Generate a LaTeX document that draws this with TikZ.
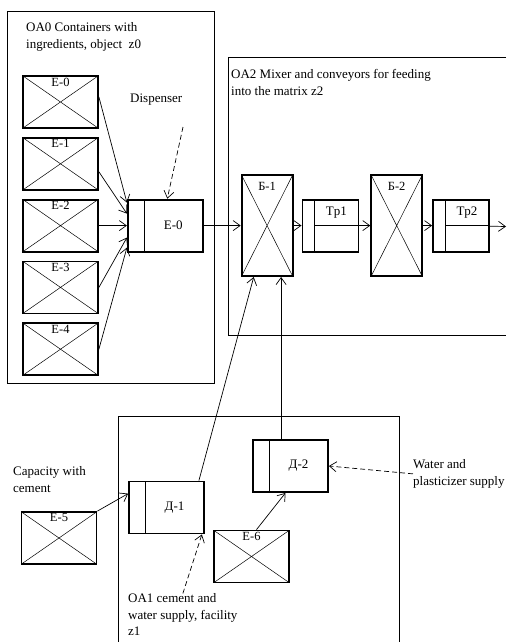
\documentclass[tikz,border=0pt]{standalone}
\usepackage{fontspec}
\setmainfont{Liberation Serif}
\usetikzlibrary{positioning,arrows.meta}

\begin{document}
\begin{tikzpicture}[
    x=1pt, y=-1pt,
    every node/.style={font=\fontsize{13}{16.5}\selectfont},
    frame/.style={draw, line width=0.8pt},
    tank/.style={rectangle, draw, line width=1.8pt, minimum width=75pt, minimum height=52pt, inner sep=0pt,
        path picture={\draw[line width=0.5pt] (path picture bounding box.north west) -- (path picture bounding box.south east)
            (path picture bounding box.south west) -- (path picture bounding box.north east);}},
    mixer/.style={tank, minimum width=51pt, minimum height=101pt},
    feeder/.style={rectangle, draw, line width=1.8pt, minimum width=75pt, minimum height=52pt, inner sep=0pt,
        path picture={\draw[line width=0.6pt] ([xshift=16pt]path picture bounding box.north west) -- ([xshift=16pt]path picture bounding box.south west);}},
    belt/.style={rectangle, draw, line width=1.8pt, minimum width=56pt, minimum height=52pt, inner sep=0pt,
        path picture={\draw[line width=0.6pt] ([xshift=12pt]path picture bounding box.north west) -- ([xshift=12pt]path picture bounding box.south west)
            ([xshift=12pt]path picture bounding box.west) -- (path picture bounding box.east);}},
    tag/.style={anchor=north, inner sep=2.5pt, font=\fontsize{12.5}{14}\selectfont},
    flow/.style={-{Straight Barb[length=7pt,width=10pt]}, line width=0.7pt},
    supply/.style={flow, dashed, dash pattern=on 5pt off 3pt},
    note/.style={anchor=north west, align=left, inner sep=0pt},
    node distance=8pt
]
\useasboundingbox (0,0) rectangle (506,642);

% Frames
\draw[frame] (7,11) rectangle (214,383);
\draw[frame] (506,57) -| (228,335) -- (506,335);
\draw[frame] (118,642) |- (399,416) -- (399,642);

\node[note] (oa0) at (26,22.5) {OA0 Containers with\\ingredients, object~~z0};
\node[note] (oa2) at (231,69.5) {OA2 Mixer and conveyors for feeding\\into the matrix z2};
\node[note] (dispnote) at (130,94) {Dispenser};
\node[note] (cap) at (13,466.5) {Capacity with\\cement};
\node[note] (water) at (413,459.5) {Water and\\plasticizer supply};
\node[note] (oa1) at (128,593.5) {OA1 cement and\\water supply, facility\\z1};

% Containers
\node[tank, label={[tag]north:E-0}] (e0) at (60.5,102) {};
\node[tank, label={[tag]north:E-1}, below=of e0] (e1) {};
\node[tank, label={[tag]north:E-2}, below=of e1] (e2) {};
\node[tank, label={[tag]north:E-3}, below=of e2] (e3) {};
\node[tank, label={[tag]north:E-4}, below=of e3] (e4) {};

\node[feeder, label={[xshift=8pt]center:E-0}, right=28pt of e2] (disp) {};
\coordinate (dispin) at (183,127);

% Mixer line
\node[mixer, label={[tag, yshift=-5pt]north:Б-1}, right=37pt of disp] (b1) {};
\node[belt, label={[xshift=6pt, yshift=13pt]center:Tp1}, right=8pt of b1] (tp1) {};
\node[mixer, label={[tag, yshift=-5pt]north:Б-2}, right=11pt of tp1] (b2) {};
\node[belt, label={[xshift=6pt, yshift=13pt]center:Tp2}, right=9pt of b2] (tp2) {};
\coordinate (out) at (506,226.5);

% Cement and water
\node[feeder, label={[xshift=8pt]center:Д-1}] (d1) at (166.5,507.5) {};
\node[feeder, label={[xshift=8pt]center:Д-2}] (d2) at (290.5,466) {};
\node[tank, label={[tag]north:E-5}] (e5) at (59,538) {};
\node[tank, label={[tag]north:E-6}] (e6) at (251.5,556.5) {};

% Arrows
\draw[flow] ([yshift=5pt]e0.east) -- ([yshift=23pt]disp.west);
\draw[flow] ([yshift=-8pt]e1.east) -- ([yshift=12pt]disp.west);
\draw[flow] (e2) -- (disp);
\draw[flow] (e3.east) -- ([yshift=-12pt]disp.west);
\draw[flow] (e4.east) -- ([yshift=-22pt]disp.west);
\draw[supply] (dispin) -- ([xshift=2pt]disp.north);
\draw[flow] (disp) -- (b1);
\draw[flow] (b1) -- (tp1);
\draw[flow] (tp1) -- (b2);
\draw[flow] (b2) -- (tp2);
\draw[flow] (tp2) -- (out);

\draw[flow] ([xshift=-6pt]d1.north east) -- ([xshift=13pt]b1.south west);
\coordinate (d2top) at ([xshift=29pt]d2.north west);
\draw[flow] (d2top) -- (d2top |- b1.south);
\draw[flow] (e5.north east) -- ([yshift=-13pt]d1.north west);
\draw[flow] ([xshift=5pt]e6.north) -- ([xshift=-5pt]d2.south);
\draw[supply] (water.west) -- (d2.east);
\draw[supply] (oa1.north) -- ([xshift=-3pt]d1.south east);

\end{tikzpicture}
\end{document}
